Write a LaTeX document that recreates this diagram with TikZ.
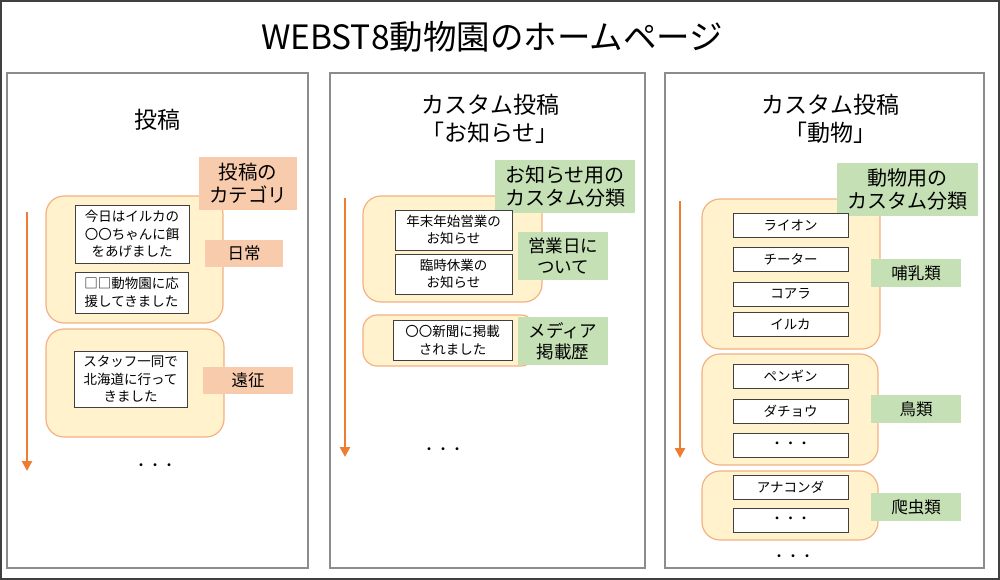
\documentclass[tikz,border=0pt]{standalone}
\usepackage{fontspec}
\setmainfont{Noto Sans CJK JP}
\usetikzlibrary{arrows.meta}
\definecolor{salmon}{HTML}{F8CBAD}
\definecolor{leaf}{HTML}{C5E0B4}
\definecolor{cream}{HTML}{FFF2CC}
\definecolor{peach}{HTML}{F4B183}
\definecolor{orng}{HTML}{ED7D31}
\definecolor{frame}{HTML}{404040}
\definecolor{pnl}{HTML}{8C8C8C}
\tikzset{
  panel/.style={draw=pnl, line width=1.2pt, fill=white},
  group/.style={draw=peach, line width=1.2pt, fill=cream, rounded corners=18pt},
  item/.style={draw=frame, line width=0.9pt, fill=white, align=center, inner sep=0pt,
    font=\fontsize{13.5}{17.5}\selectfont},
  cat/.style={fill=salmon, align=center, inner sep=0pt},
  tax/.style={fill=leaf, align=center, inner sep=0pt},
  ptitle/.style={align=center, font=\fontsize{23}{28}\selectfont},
  timeline/.style={draw=orng, line width=2.8pt, -{Triangle[width=10pt,length=10pt]}},
  ellip/.style={font=\fontsize{14}{14}\selectfont},
}
\begin{document}
\begin{tikzpicture}[x=1pt,y=-1pt]
\useasboundingbox (0,0) rectangle (1000,580);
\draw[draw=frame, line width=2pt] (1,1) rectangle (999,579);
\node[font=\fontsize{33.5}{36}\selectfont] (title) at (492,37) {WEBST8動物園のホームページ};

% panels
\node[panel, minimum width=301pt, minimum height=495pt] (p1) at (157.5,320.5) {};
\node[panel, minimum width=315pt, minimum height=495pt] (p2) at (487.5,320.5) {};
\node[panel, minimum width=319pt, minimum height=495pt] (p3) at (824.5,320.5) {};

% ---------- panel 1
\node[ptitle] (t1) at (157,120) {投稿};
\node[group, minimum width=177pt, minimum height=127pt] (g1a) at (134.5,259.5) {};
\node[group, minimum width=178pt, minimum height=108pt] (g1b) at (135,383) {};
\node[cat, minimum width=98pt, minimum height=53pt, font=\fontsize{19.5}{23}\selectfont] (c1) at (248,183.5) {投稿の\\カテゴリ};
\node[item, minimum width=114pt, minimum height=58pt] (w1a) at (132,234) {今日はイルカの\\〇〇ちゃんに餌\\をあげました};
\node[item, minimum width=113pt, minimum height=41pt] (w1b) at (131.5,292.5) {□□動物園に応\\援してきました};
\node[cat, minimum width=78pt, minimum height=27pt, font=\fontsize{16.5}{18}\selectfont] (k1a) at (244,253.5) {日常};
\node[item, minimum width=113pt, minimum height=56pt] (w1c) at (130.5,379) {スタッフ一同で\\北海道に行って\\きました};
\node[cat, minimum width=90pt, minimum height=27pt, font=\fontsize{16.5}{18}\selectfont] (k1b) at (248,380.5) {遠征};
\coordinate (a1s) at (27,212);
\coordinate (a1e) at (27,471);
\draw[timeline] (a1s) -- (a1e);
\node[ellip] (d1) at (155,467) {・・・};

% ---------- panel 2
\node[ptitle] (t2) at (490,119) {カスタム投稿\\「お知らせ」};
\node[group, minimum width=179pt, minimum height=106pt] (g2a) at (452.5,249) {};
\node[group, rounded corners=14pt, minimum width=172pt, minimum height=51pt] (g2b) at (449,340.5) {};
\node[tax, minimum width=140pt, minimum height=53pt, font=\fontsize{20}{23}\selectfont] (c2) at (565,186.5) {お知らせ用の\\カスタム分類};
\node[item, minimum width=117pt, minimum height=40pt] (w2a) at (453.5,230) {年末年始営業の\\お知らせ};
\node[item, minimum width=117pt, minimum height=40pt] (w2b) at (453.5,274) {臨時休業の\\お知らせ};
\node[tax, minimum width=90pt, minimum height=48pt, font=\fontsize{17.5}{21}\selectfont] (k2a) at (563,256) {営業日に\\ついて};
\node[item, minimum width=119pt, minimum height=40pt] (w2c) at (452.5,340) {〇〇新聞に掲載\\されました};
\node[tax, minimum width=90pt, minimum height=48pt, font=\fontsize{17.5}{21}\selectfont] (k2b) at (563,341) {メディア\\掲載歴};
\coordinate (a2s) at (345,198);
\coordinate (a2e) at (345,457);
\draw[timeline] (a2s) -- (a2e);
\node[ellip] (d2) at (443,451) {・・・};

% ---------- panel 3
\node[ptitle] (t3) at (830,119) {カスタム投稿\\「動物」};
\node[group, minimum width=178pt, minimum height=150pt] (g3a) at (791,274) {};
\node[group, minimum width=176pt, minimum height=111pt] (g3b) at (790,409.5) {};
\node[group, minimum width=176pt, minimum height=69pt] (g3c) at (790,505.5) {};
\node[tax, minimum width=141pt, minimum height=53pt, font=\fontsize{20}{23}\selectfont] (c3) at (907.5,189.5) {動物用の\\カスタム分類};
\node[item, minimum width=115pt, minimum height=24pt] (w3a) at (790.5,225) {ライオン};
\node[item, minimum width=115pt, minimum height=24pt] (w3b) at (790.5,259) {チーター};
\node[item, minimum width=115pt, minimum height=24pt] (w3c) at (790.5,294) {コアラ};
\node[item, minimum width=115pt, minimum height=24pt] (w3d) at (790.5,324.5) {イルカ};
\node[tax, minimum width=90pt, minimum height=28pt, font=\fontsize{16.5}{18}\selectfont] (k3a) at (916,273) {哺乳類};
\node[item, minimum width=115pt, minimum height=24pt] (w3e) at (790.5,376) {ペンギン};
\node[item, minimum width=115pt, minimum height=24pt] (w3f) at (790.5,411) {ダチョウ};
\node[item, minimum width=115pt, minimum height=24pt] (w3g) at (790.5,445) {・・・};
\node[tax, minimum width=90pt, minimum height=28pt, font=\fontsize{16.5}{18}\selectfont] (k3b) at (916,409) {鳥類};
\node[item, minimum width=115pt, minimum height=24pt] (w3h) at (790.5,487) {アナコンダ};
\node[item, minimum width=115pt, minimum height=24pt] (w3i) at (790.5,520.5) {・・・};
\node[tax, minimum width=90pt, minimum height=28pt, font=\fontsize{16.5}{18}\selectfont] (k3c) at (916,507) {爬虫類};
\coordinate (a3s) at (680,201);
\coordinate (a3e) at (680,458);
\draw[timeline] (a3s) -- (a3e);
\node[ellip] (d3) at (793,558) {・・・};
\end{tikzpicture}
\end{document}
